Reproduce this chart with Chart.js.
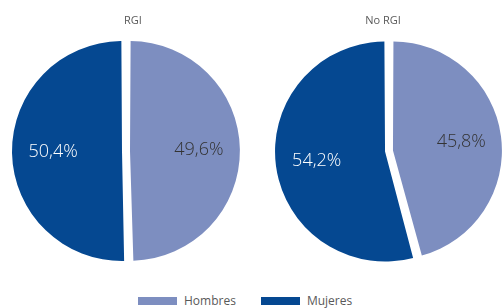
<!DOCTYPE html>
<html>
<head>
<meta charset="utf-8">
<script src="https://cdn.jsdelivr.net/npm/chart.js@4.4.0/dist/chart.umd.min.js"></script>
<style>
  html, body { margin: 0; padding: 0; background: #fff; width: 502px; height: 308px; overflow: hidden; font-family: "Open Sans", sans-serif; }
  #c1, #c2 { position: absolute; top: 0; }
  #c1 { left: 0; }
  #c2 { left: 252px; }
  #legend { position: absolute; left: 138px; top: 292px; display: flex; align-items: center; font-size: 12px; color: #595959; }
  .item { display: flex; align-items: center; margin-right: 25px; }
  .box { width: 39px; height: 8px; margin-right: 7px; }
</style>
</head>
<body>
<canvas id="c1" width="252" height="275"></canvas>
<canvas id="c2" width="250" height="275"></canvas>
<div id="legend"></div>
<script>
const categories = ["Hombres", "Mujeres"];
const chartTitles = ["RGI", "No RGI"];
const rgiValues = [49.6, 50.4];
const noRgiValues = [45.8, 54.2];
const colors = ["#7D8EC0", "#054891"];
const labelColors = ["#333333", "#ffffff"];

function fmt(v) { return v.toFixed(1).replace(".", ",") + "%"; }

const sliceLabels = {
  id: "sliceLabels",
  afterDatasetsDraw(chart) {
    const ctx = chart.ctx;
    const meta = chart.getDatasetMeta(0);
    const ds = chart.data.datasets[0];
    ctx.save();
    ctx.font = "300 18px 'Open Sans', sans-serif";
    ctx.textAlign = "center";
    ctx.textBaseline = "middle";
    meta.data.forEach((arc, i) => {
      const p = arc.getProps(["x", "y", "startAngle", "endAngle", "outerRadius"], true);
      const mid = (p.startAngle + p.endAngle) / 2;
      const off = (ds.offset || 0) / 4;
      const d = p.outerRadius * 0.65 + off;
      ctx.fillStyle = labelColors[i];
      ctx.fillText(fmt(ds.data[i]), p.x + Math.cos(mid) * d, p.y + Math.sin(mid) * d);
    });
    ctx.restore();
  }
};

const topTitle = {
  id: "topTitle",
  afterDraw(chart, args, opts) {
    const ctx = chart.ctx;
    ctx.save();
    ctx.font = "11px 'Open Sans', sans-serif";
    ctx.fillStyle = "#595959";
    ctx.textAlign = "center";
    ctx.textBaseline = "middle";
    ctx.fillText(opts.text, opts.x, opts.y);
    ctx.restore();
  }
};

function makePie(id, values, title, padding, titleX) {
  return new Chart(document.getElementById(id), {
    type: "pie",
    data: {
      labels: categories,
      datasets: [{
        data: values,
        backgroundColor: colors,
        borderWidth: 0,
        offset: 16,
        hoverOffset: 16
      }]
    },
    options: {
      responsive: false,
      animation: false,
      radius: 106,
      layout: { padding: padding },
      plugins: {
        legend: { display: false },
        tooltip: { enabled: false },
        title: { display: false },
        topTitle: { text: title, x: titleX, y: 21 }
      },
      events: []
    },
    plugins: [sliceLabels, topTitle]
  });
}

makePie("c1", rgiValues, chartTitles[0], { top: 27, left: 0, right: 0, bottom: 0 }, 133);
makePie("c2", noRgiValues, chartTitles[1], { top: 27, left: 24, right: 0, bottom: 0 }, 131);

const legend = document.getElementById("legend");
categories.forEach((c, i) => {
  const it = document.createElement("div");
  it.className = "item";
  const b = document.createElement("div");
  b.className = "box";
  b.style.background = colors[i];
  const t = document.createElement("span");
  t.textContent = c;
  it.appendChild(b); it.appendChild(t);
  legend.appendChild(it);
});
</script>
</body>
</html>
